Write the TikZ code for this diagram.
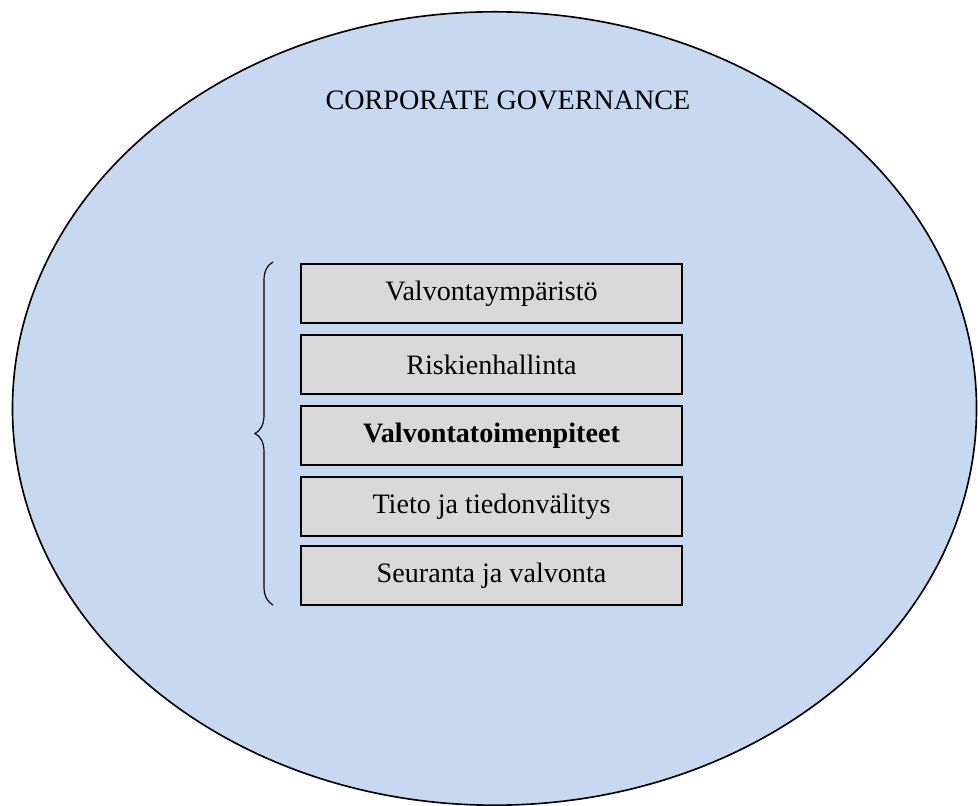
\documentclass[tikz,border=0pt]{standalone}
\usepackage{fontspec}
\setmainfont{Liberation Serif}
\usetikzlibrary{decorations.pathreplacing}

\definecolor{govblue}{HTML}{C6D9F0}
\definecolor{boxgray}{HTML}{D9D9D9}

\begin{document}
\begin{tikzpicture}
                \tikzset{x=0.015cm, y=-0.015cm}
                \tikzstyle{part}=[rectangle, draw, line width=0.7pt, fill=boxgray, minimum width=5.715cm, minimum height=0.885cm, font=\fontsize{12}{14}\selectfont]
                \tikzstyle{bracket}=[decorate, decoration={brace, amplitude=0.27cm}, line width=0.5pt]

                \useasboundingbox (0,0) rectangle (978,806);

                % the governance area
                \draw [fill=govblue, line width=0.7pt] (494.5,408.5) ellipse [x radius=7.23cm, y radius=5.95cm];
                \draw (508.0, 100.0) node (gov) {\fontsize{12}{14}\selectfont CORPORATE GOVERNANCE};

                % internal control components
                \draw (491.5, 293.5)  node[part]  (b1)  {Valvontaympäristö};
                \draw (491.5, 364.5)  node[part]  (b2)  {Riskienhallinta};
                \draw (491.5, 435.5)  node[part]  (b3)  {\textbf{Valvontatoimenpiteet}};
                \draw (491.5, 506.5)  node[part]  (b4)  {Tieto ja tiedonvälitys};
                \draw (491.5, 575.5)  node[part]  (b5)  {Seuranta ja valvonta};

                \coordinate (bt) at (273, 262);
                \coordinate (bb) at (273, 605);
                \draw [bracket] (bb) -- (bt);
            \end{tikzpicture}
\end{document}
